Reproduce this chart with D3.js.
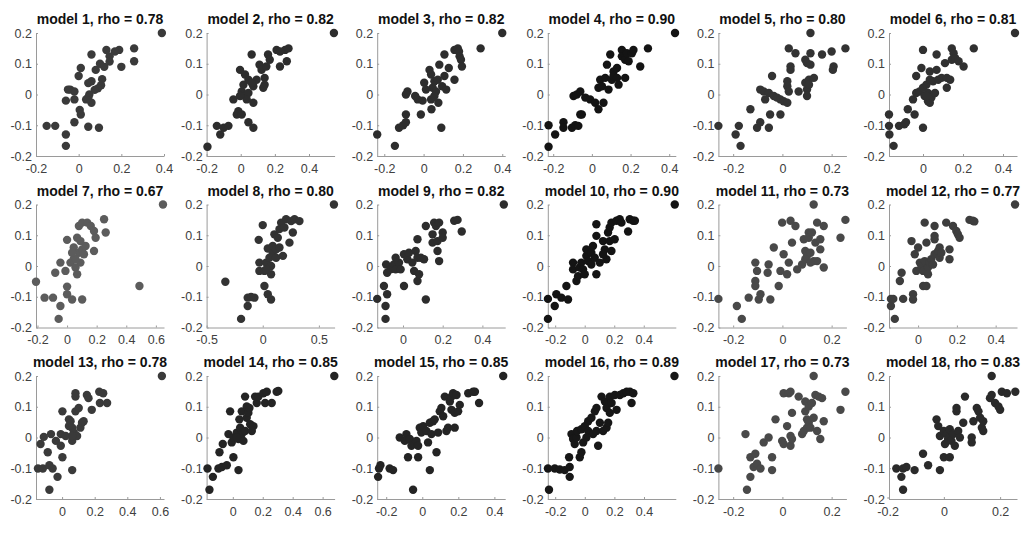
<!DOCTYPE html>
<html><head><meta charset="utf-8">
<script src="https://cdn.jsdelivr.net/npm/d3@7"></script>
<style>body{margin:0;background:#fff}svg{display:block}</style>
</head><body><svg id="c" width="1024" height="533"></svg>
<script>
const modelNames = d3.range(1,19).map(i=>"model "+i);
const rhos = [0.78,0.82,0.82,0.90,0.80,0.81,0.67,0.80,0.82,0.90,0.73,0.77,0.78,0.85,0.85,0.89,0.73,0.83];
const yTicks = [-0.2,-0.1,0,0.1,0.2];
const yDomain = [-0.2,0.2];
const xDomains = [[-0.2,0.4],[-0.2,0.55],[-0.236,0.415],[-0.228,0.434],[-0.26,0.26],[-0.17,0.47],
  [-0.21,0.655],[-0.5,0.64],[-0.13,0.515],[-0.25,0.617],[-0.26,0.26],[-0.15,0.51],
  [-0.16,0.625],[-0.175,0.68],[-0.25,0.46],[-0.25,0.615],[-0.26,0.26],[-0.195,0.26]];
const xTicks = [[-0.2,0,0.2,0.4],[-0.2,0,0.2,0.4],[-0.2,0,0.2,0.4],[-0.2,0,0.2,0.4],[-0.2,0,0.2],[0,0.2,0.4],
  [-0.2,0,0.2,0.4,0.6],[-0.5,0,0.5],[0,0.2,0.4],[-0.2,0,0.2,0.4],[-0.2,0,0.2],[0,0.2,0.4],
  [0,0.2,0.4,0.6],[0,0.2,0.4,0.6],[-0.2,0,0.2,0.4],[-0.2,0,0.2,0.4],[-0.2,0,0.2],[-0.2,0,0.2]];

const m1 = [[0.39,0.2],[0.26,0.15],[0.26,0.108],[0.2,0.09],[0.19,0.145],[0.17,0.14],[0.145,0.124],[0.13,0.145],[0.145,0.107],[0.10,0.10],[0.12,0.09],[0.06,0.13],[0.01,0.086],[0.0,0.06],[0.08,0.08],[0.11,0.05],[0.105,0.03],[0.09,0.02],[0.075,0.015],[0.06,0.043],[0.045,0.037],[0.05,0],[0.045,-0.01],[0.06,-0.027],[0.035,-0.016],[-0.04,0.016],[-0.02,0.01],[-0.06,-0.02],[-0.02,-0.016],[0.005,-0.05],[0.01,-0.065],[-0.02,-0.09],[0.045,-0.105],[0.095,-0.108],[-0.15,-0.102],[-0.11,-0.102],[-0.06,-0.13],[-0.06,-0.167],[-0.05,0.016]];
const m2 = [[0.546,0.2],[-0.195,-0.17],[-0.14,-0.102],[-0.12,-0.13],[-0.1,-0.108],[-0.072,-0.102],[-0.043,-0.016],[-0.014,-0.054],[-0.023,-0.065],[0.006,-0.065],[-0.004,0.08],[0.025,0.065],[0.045,0.048],[0.064,0.13],[0.006,0.01],[0.025,-0.005],[0.045,0.005],[0.035,-0.016],[0.074,0.027],[0.074,-0.027],[0.045,-0.09],[0.074,-0.108],[0.093,0.048],[0.11,0.097],[0.122,0.08],[0.14,0.054],[0.14,0.032],[0.132,0.022],[0.15,0.091],[0.16,0.13],[0.17,0.113],[0.21,0.145],[0.23,0.091],[0.27,0.108],[0.26,0.145],[0.28,0.15],[0.23,0.14],[0.064,0.038],[0.016,0.032],[-0.004,-0.005]];
const m3 = [[0.40,0.2],[-0.236,-0.13],[-0.146,-0.167],[-0.125,-0.108],[-0.104,-0.1],[-0.09,-0.09],[-0.09,-0.065],[-0.082,0.01],[-0.09,0],[-0.043,-0.005],[-0.03,-0.016],[-0.014,-0.065],[-0.005,-0.02],[0.003,0.038],[0.03,0.08],[0.038,0.065],[0.038,-0.016],[0.04,-0.048],[0.046,0.022],[0.055,0.043],[0.063,0.01],[0.072,0.048],[0.08,0.097],[0.075,-0.027],[0.09,-0.108],[0.094,0.027],[0.106,0.13],[0.106,0.06],[0.115,0.016],[0.128,0.086],[0.157,0.048],[0.157,0.145],[0.174,0.15],[0.18,0.14],[0.183,0.124],[0.19,0.113],[0.195,0.091],[0.29,0.15],[0.012,0.016],[0.055,-0.005]];
const m4 = [[0.43,0.2],[-0.224,-0.1],[-0.224,-0.17],[-0.19,-0.13],[-0.147,-0.09],[-0.147,-0.108],[-0.103,-0.108],[-0.086,-0.1],[-0.07,-0.102],[-0.095,-0.005],[-0.078,0],[-0.06,-0.065],[-0.052,-0.065],[-0.06,0.01],[-0.034,-0.01],[-0.009,-0.016],[0.017,-0.027],[0.034,-0.048],[0.043,0.048],[0.034,0.022],[0.06,-0.027],[0.052,0.027],[0.069,0.054],[0.078,0.097],[0.086,0.016],[0.095,0.13],[0.103,0.048],[0.112,0.075],[0.112,0.06],[0.13,0.086],[0.138,0.032],[0.155,0.145],[0.155,0.124],[0.172,0.113],[0.19,0.108],[0.181,0.134],[0.172,0.054],[0.207,0.134],[0.215,0.145],[0.25,0.091],[0.29,0.15],[0.13,0.054]];
const m5 = [[0.114,0.2],[-0.26,-0.102],[-0.19,-0.13],[-0.177,-0.102],[-0.17,-0.167],[-0.13,-0.048],[-0.103,-0.108],[-0.09,-0.09],[-0.09,0.016],[-0.076,0.01],[-0.07,-0.016],[-0.055,-0.108],[-0.05,-0.065],[-0.042,0.06],[-0.055,0.005],[-0.035,-0.005],[-0.022,-0.01],[-0.008,-0.065],[-0.008,-0.016],[0.005,-0.022],[0.02,-0.027],[0.02,0.027],[0.02,0.043],[0.026,0.15],[0.033,0.08],[0.033,0.091],[0.026,0.01],[0.053,0.134],[0.066,0.01],[0.093,0.038],[0.093,0.113],[0.1,0.102],[0.1,0.016],[0.1,-0.005],[0.108,0.048],[0.114,0.134],[0.114,0.097],[0.108,0.032],[0.128,0.054],[0.161,0.13],[0.2,0.14],[0.208,0.091],[0.205,0.08],[0.256,0.15]];
const m6 = [[0.46,0.2],[-0.17,-0.065],[-0.17,-0.102],[-0.168,-0.13],[-0.147,-0.167],[-0.12,-0.102],[-0.093,-0.097],[-0.085,-0.09],[-0.076,-0.048],[-0.042,-0.065],[-0.05,-0.016],[-0.034,0.005],[-0.034,0.06],[-0.008,0.086],[0,0.145],[0,-0.108],[-0.017,0.01],[0,0.022],[0.008,-0.005],[0.017,0.032],[0.025,0.005],[0.025,-0.022],[0.034,0.075],[0.034,0.048],[0.034,-0.027],[0.042,-0.01],[0.05,0.043],[0.06,0.005],[0.068,0.08],[0.068,0.13],[0.076,0.048],[0.093,0.054],[0.11,0.102],[0.119,0.054],[0.119,0.022],[0.136,0.048],[0.144,0.15],[0.144,0.113],[0.153,0.134],[0.161,0.118],[0.178,0.108],[0.203,0.091],[0.254,0.15],[0.017,-0.005]];
const m7 = [[0.648,0.2],[-0.21,-0.051],[-0.152,-0.103],[-0.095,-0.103],[-0.045,-0.13],[-0.057,-0.172],[-0.08,-0.022],[-0.045,0.011],[0,0.085],[-0.011,-0.016],[0,-0.067],[0,-0.092],[0.034,-0.109],[0.102,-0.109],[0.023,0.011],[0.045,0.022],[0.045,0.06],[0.057,-0.005],[0.068,-0.027],[0.068,0.092],[0.08,0.13],[0.08,0.043],[0.09,0.011],[0.102,0.054],[0.102,0.141],[0.09,0.081],[0.114,0.038],[0.125,0.065],[0.136,0.141],[0.16,0.13],[0.182,0.114],[0.182,0.049],[0.193,0.092],[0.25,0.152],[0.261,0.109],[0.489,-0.065],[0.057,0.022],[0.034,0.043]];
const m8 = [[0.634,0.2],[-0.333,-0.051],[-0.193,-0.172],[-0.134,-0.13],[-0.134,-0.103],[-0.104,-0.101],[-0.074,-0.103],[-0.036,0.085],[0,0.133],[0.045,0.057],[-0.03,0.011],[-0.03,-0.016],[0.015,-0.016],[0.015,-0.065],[0.045,-0.092],[0.074,-0.109],[0.03,0.011],[0.06,0.027],[0.074,0],[0.074,-0.027],[0.089,0.043],[0.089,0.065],[0.119,0.054],[0.119,0.027],[0.104,0.103],[0.134,0.092],[0.149,0.12],[0.18,0.033],[0.164,0.141],[0.193,0.125],[0.208,0.152],[0.238,0.076],[0.253,0.146],[0.268,0.109],[0.283,0.152],[0.327,0.146],[0.149,0.06],[0.03,-0.011]];
const m9 = [[0.508,0.2],[-0.13,-0.107],[-0.096,-0.065],[-0.08,-0.092],[-0.088,-0.13],[-0.088,-0.172],[-0.085,0.005],[-0.08,-0.022],[-0.063,-0.011],[-0.046,0.005],[-0.037,-0.011],[-0.02,0.011],[-0.012,-0.011],[0.005,0.038],[0.005,-0.065],[0.022,0.022],[0.03,0.043],[0.047,0.011],[0.056,-0.016],[0.064,0.049],[0.073,0.027],[0.073,0.087],[0.073,-0.049],[0.081,-0.027],[0.09,0.027],[0.106,0.022],[0.115,-0.109],[0.115,0.13],[0.149,0.103],[0.149,0.076],[0.157,0.141],[0.166,0.13],[0.182,0.141],[0.174,0.049],[0.174,0.081],[0.2,0.109],[0.2,0.092],[0.258,0.147],[0.275,0.15],[0.296,0.112],[0.182,0.016],[-0.037,0.027]];
const m10 = [[0.61,0.2],[-0.249,-0.107],[-0.249,-0.172],[-0.203,-0.13],[-0.192,-0.092],[-0.158,-0.103],[-0.113,-0.109],[-0.124,-0.065],[-0.079,0.011],[-0.079,-0.011],[-0.056,-0.049],[-0.045,-0.033],[-0.034,-0.005],[-0.023,0.011],[-0.011,-0.011],[0,-0.027],[0.011,0.033],[0.011,0.054],[0.023,0.016],[0.045,0.043],[0.045,0.005],[0.056,0.065],[0.079,0.136],[0.079,0.098],[0.068,0.027],[0.079,-0.027],[0.102,0.011],[0.124,0.081],[0.136,0.054],[0.147,0.022],[0.158,0.109],[0.169,0.125],[0.169,0.081],[0.181,0.049],[0.181,0.141],[0.203,0.087],[0.215,0.147],[0.237,0.152],[0.249,0.141],[0.305,0.152],[0.328,0.147],[0.34,0.147],[0.294,0.112],[0.124,0.038]];
const m11 = [[0.127,0.2],[-0.26,-0.107],[-0.185,-0.13],[-0.165,-0.172],[-0.137,-0.103],[-0.11,0.011],[-0.103,-0.016],[-0.11,-0.049],[-0.11,-0.065],[-0.096,-0.109],[-0.089,-0.092],[-0.056,0.005],[-0.06,-0.022],[-0.049,-0.109],[-0.035,0.06],[-0.015,-0.065],[-0.001,0.141],[-0.008,-0.016],[0.005,0.038],[0.019,-0.027],[0.026,0.011],[0.033,0.147],[0.039,0.076],[0.053,0.13],[0.06,-0.011],[0.08,0.005],[0.087,0.087],[0.093,0.022],[0.093,0.049],[0.1,0.033],[0.107,0.109],[0.114,0.043],[0.107,0.092],[0.12,0.109],[0.134,0.076],[0.127,0.016],[0.141,0.141],[0.154,0.054],[0.154,0.087],[0.141,0.016],[0.168,-0.005],[0.168,0.13],[0.236,0.092],[0.256,0.15],[0.114,0.011]];
const m12 = [[0.5,0.2],[-0.14,-0.107],[-0.14,-0.13],[-0.12,-0.172],[-0.128,-0.107],[-0.094,-0.049],[-0.085,-0.022],[-0.077,-0.107],[-0.034,0.081],[-0.026,-0.092],[-0.026,-0.109],[-0.017,0.038],[0,0.06],[-0.009,-0.016],[0.009,0.011],[0.017,0],[0.026,-0.016],[0.034,0.141],[0.034,0.016],[0.026,-0.065],[0.043,-0.065],[0.043,0.076],[0.051,-0.005],[0.051,-0.027],[0.06,0.011],[0.068,0.022],[0.077,0.005],[0.085,0.13],[0.085,0.098],[0.085,0.087],[0.085,0.038],[0.103,0.049],[0.111,0.027],[0.111,0.06],[0.145,0.141],[0.162,0.054],[0.162,0.022],[0.18,0.13],[0.197,0.114],[0.205,0.103],[0.214,0.092],[0.265,0.15],[0.282,0.147],[0.29,0.145],[0.12,0.043]];
const m13 = [[0.612,0.2],[-0.148,-0.101],[-0.118,-0.101],[-0.132,-0.021],[-0.112,0.002],[-0.068,0.011],[-0.088,-0.048],[-0.078,-0.09],[-0.058,-0.101],[-0.028,-0.128],[-0.078,-0.17],[-0.038,-0.011],[-0.008,-0.027],[0.002,0.085],[-0.008,0.011],[0.002,-0.064],[0.022,0.005],[0.042,0.037],[0.042,0.059],[0.052,0.053],[0.062,0.032],[0.062,-0.011],[0.062,-0.106],[0.072,0.016],[0.082,0.085],[0.082,0.144],[0.082,0.133],[0.092,0.005],[0.102,0.096],[0.112,0.032],[0.122,0.048],[0.132,0.053],[0.152,0.138],[0.162,0.128],[0.182,0.09],[0.228,0.149],[0.252,0.144],[0.232,0.112],[0.276,0.112],[0.062,0.005]];
const m14 = [[0.678,0.2],[-0.169,-0.101],[-0.156,-0.17],[-0.133,-0.128],[-0.096,-0.101],[-0.073,-0.096],[-0.04,-0.09],[-0.089,-0.048],[-0.067,-0.021],[-0.029,0.011],[-0.018,0.085],[-0.007,-0.016],[0.004,0],[0.004,-0.064],[0.027,0.016],[0.038,-0.106],[0.038,-0.005],[0.044,0.059],[0.049,0.032],[0.06,0.085],[0.06,0.011],[0.071,-0.011],[0.082,0.133],[0.082,0.021],[0.093,0.064],[0.093,0.101],[0.104,0.08],[0.111,0.096],[0.116,0.043],[0.127,0.021],[0.138,0.037],[0.149,0.133],[0.16,0.112],[0.171,0.133],[0.204,0.144],[0.216,0.112],[0.227,0.149],[0.26,0.112],[0.293,0.149],[0.304,0.151],[0.027,0]];
const m15 = [[0.449,0.2],[-0.245,-0.128],[-0.24,-0.101],[-0.232,-0.09],[-0.181,-0.101],[-0.162,-0.106],[-0.125,0],[-0.088,0.011],[-0.097,-0.011],[-0.069,-0.005],[-0.079,-0.064],[-0.06,-0.027],[-0.051,-0.17],[-0.032,-0.011],[-0.023,-0.064],[-0.023,-0.027],[-0.014,0.032],[-0.005,0.016],[0.005,0.037],[0.023,0.021],[0.032,-0.016],[0.042,-0.106],[0.042,0.048],[0.051,0.011],[0.06,0.053],[0.069,0.059],[0.079,-0.048],[0.088,0.016],[0.097,0.085],[0.106,0.096],[0.116,0.069],[0.125,0.133],[0.134,0.021],[0.143,0.032],[0.153,0.117],[0.162,0.09],[0.162,0.133],[0.171,0.144],[0.18,0.08],[0.18,0.032],[0.19,0.138],[0.199,0.085],[0.208,0.106],[0.255,0.144],[0.282,0.149],[0.292,0.149],[0.315,0.112]];
const m16 = [[0.606,0.2],[-0.249,-0.101],[-0.242,-0.17],[-0.203,-0.101],[-0.169,-0.104],[-0.136,-0.106],[-0.102,-0.128],[-0.102,-0.096],[-0.106,-0.064],[-0.09,0.011],[-0.079,-0.005],[-0.068,-0.021],[-0.056,0],[-0.052,0.021],[-0.034,-0.064],[-0.023,-0.048],[-0.023,0.027],[-0.011,-0.016],[0,0.037],[0.023,0.021],[0.023,0.053],[0.045,0.064],[0.056,0.011],[0.068,0.085],[0.079,0.096],[0.079,0.021],[0.09,-0.027],[0.102,0.048],[0.113,0.133],[0.124,0.021],[0.136,0.117],[0.147,0.096],[0.147,0.032],[0.158,0.048],[0.169,0.08],[0.169,0.133],[0.181,0.112],[0.203,0.138],[0.215,0.09],[0.237,0.138],[0.26,0.144],[0.283,0.149],[0.305,0.149],[0.328,0.144],[0.316,0.112],[0.011,0]];
const m17 = [[0.127,0.2],[-0.26,-0.101],[-0.15,0.011],[-0.144,-0.17],[-0.13,-0.128],[-0.13,-0.064],[-0.117,-0.096],[-0.11,-0.053],[-0.103,-0.085],[-0.089,-0.101],[-0.076,-0.016],[-0.056,0],[-0.042,-0.064],[-0.042,-0.106],[-0.028,0.059],[-0.001,-0.011],[0.005,0.144],[0.005,-0.021],[0.019,0.037],[0.026,0.144],[0.033,0.149],[0.033,0.005],[0.033,-0.027],[0.039,0.08],[0.039,-0.005],[0.066,0.133],[0.08,0.011],[0.087,0.021],[0.093,0.085],[0.093,0.117],[0.1,0.032],[0.1,0.059],[0.107,0.048],[0.107,0.101],[0.12,0.112],[0.114,0.032],[0.134,0.138],[0.141,0.021],[0.148,0.133],[0.154,-0.005],[0.161,0.128],[0.168,0.053],[0.236,0.09],[0.256,0.149],[0.127,0.064]];
const m18 = [[0.17,0.2],[-0.169,-0.101],[-0.151,-0.128],[-0.145,-0.17],[-0.145,-0.101],[-0.133,-0.096],[-0.104,-0.106],[-0.074,-0.053],[-0.056,-0.09],[-0.026,0.059],[-0.014,-0.106],[-0.02,0.037],[-0.014,0.005],[0,0.021],[0,-0.064],[0.004,-0.021],[0.01,0.011],[0.015,-0.005],[0.021,-0.064],[0.021,0.027],[0.027,-0.011],[0.033,0.011],[0.039,-0.027],[0.045,0.085],[0.045,0.096],[0.051,0.021],[0.057,0],[0.069,0.048],[0.075,0.133],[0.099,0],[0.105,0.053],[0.099,-0.016],[0.117,0.096],[0.123,0.085],[0.135,0.032],[0.14,0.053],[0.14,0.021],[0.164,0.128],[0.17,0.138],[0.182,0.112],[0.194,0.101],[0.2,0.09],[0.206,0.149],[0.224,0.144],[0.254,0.149],[0.129,0.064]];
const modelData = [m1,m2,m3,m4,m5,m6,m7,m8,m9,m10,m11,m12,m13,m14,m15,m16,m17,m18];

const svg = d3.select("#c");
const W = 128, H = 123;
const colLeft = d3.range(6).map(i => 36 + i*170.6);
const rowTop = d3.range(3).map(i => 33 + i*171.5);
const shade = d3.scaleLinear().domain([0.67,0.90]).range(["#5c5c5c","#141414"]);
const fmt = d => String(+d.toFixed(2));

modelData.forEach((pts, i) => {
  const c = i % 6, r = Math.floor(i / 6);
  const g = svg.append("g").attr("transform", `translate(${colLeft[c]},${rowTop[r]})`);
  const x = d3.scaleLinear().domain(xDomains[i]).range([0, W]);
  const y = d3.scaleLinear().domain(yDomain).range([H, 0]);
  const xa = g.append("g").attr("transform", `translate(0,${H})`)
    .call(d3.axisBottom(x).tickValues(xTicks[i]).tickFormat(fmt).tickSizeInner(-2).tickSizeOuter(0).tickPadding(8));
  const ya = g.append("g")
    .call(d3.axisLeft(y).tickValues(yTicks).tickFormat(fmt).tickSizeInner(-2).tickSizeOuter(0).tickPadding(4));
  [xa, ya].forEach(a => {
    a.select(".domain").attr("stroke", "#9a9a9a").attr("stroke-width", 1);
    a.selectAll(".tick line").attr("stroke", "#9a9a9a");
    a.selectAll(".tick text").attr("fill", "#404040").style("font-family", "Liberation Sans, Arial, sans-serif").style("font-size", "12.5px");
  });
  g.append("g").selectAll("circle").data(pts).join("circle")
    .attr("cx", d => x(d[0])).attr("cy", d => y(d[1])).attr("r", 4.2)
    .attr("fill", shade(rhos[i]));
  g.append("text").attr("x", W/2).attr("y", -9).attr("text-anchor", "middle")
    .style("font-family", "Liberation Sans, Arial, sans-serif").style("font-size", "14px").style("font-weight", "bold")
    .attr("fill", "#111")
    .text(`${modelNames[i]}, rho = ${rhos[i].toFixed(2)}`);
});
</script>
</body></html>
